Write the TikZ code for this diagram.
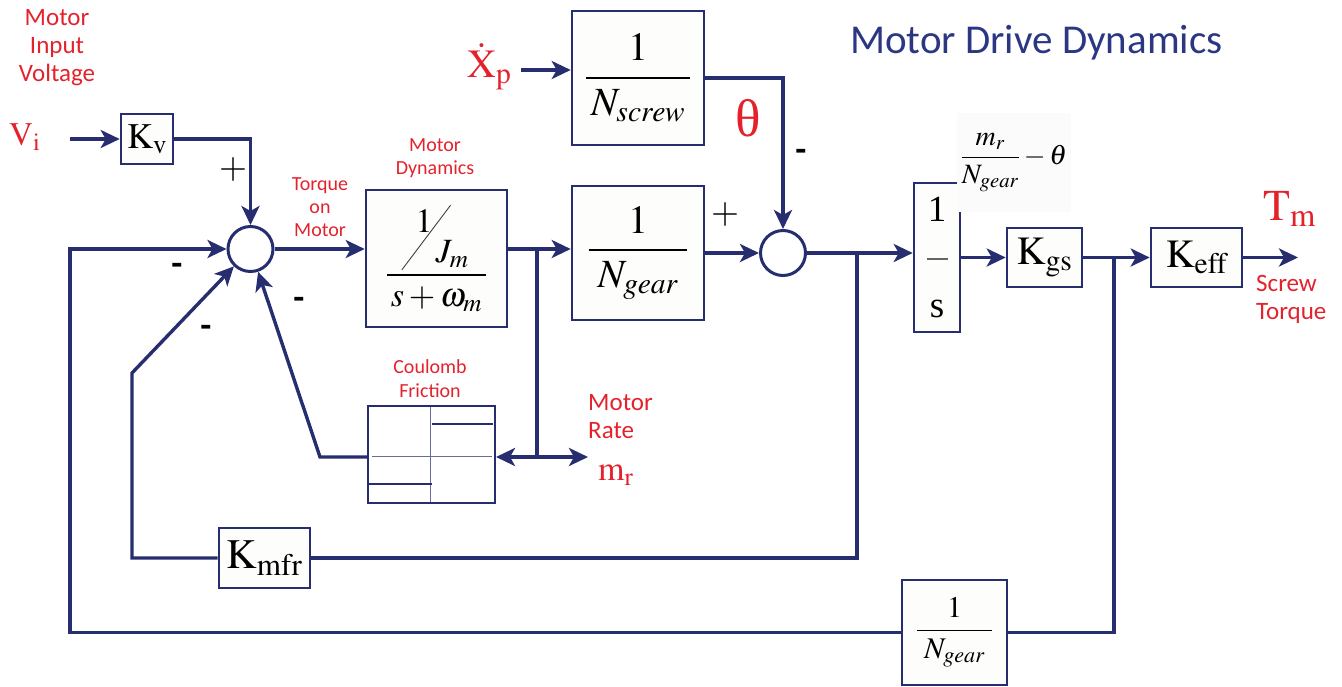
\documentclass[tikz,border=0pt]{standalone}
\usepackage{amsmath}
\usepackage{mathptmx}
\usepackage{fontspec}
\setmainfont{Liberation Serif}
\newfontfamily\carlito{Carlito}
\usetikzlibrary{arrows.meta}
\definecolor{navy}{RGB}{38,46,112}
\definecolor{titleblue}{RGB}{44,55,132}
\definecolor{lblred}{RGB}{228,34,44}
\definecolor{boxfill}{RGB}{253,253,251}

\tikzset{
  blk/.style={draw=navy, line width=2.6pt, fill=boxfill, inner sep=0pt},
  sumnode/.style={circle, draw=navy, line width=3pt, fill=white, minimum size=45pt, inner sep=0pt},
  wire/.style={draw=navy, line width=3.4pt},
  tip/.style={-{Stealth[length=19pt,width=18pt,inset=5pt]}},
  arr/.style={wire, tip},
  lbl/.style={inner sep=0pt},
  redsmall/.style={lbl, text=lblred, font=\carlito\fontsize{20}{23}\selectfont, align=center},
  redmid/.style={lbl, text=lblred, font=\carlito\fontsize{25}{28}\selectfont, align=center},
  minussign/.style={lbl, font=\carlito\bfseries\fontsize{36}{36}\selectfont},
  plussign/.style={lbl, font=\fontsize{36}{36}\selectfont},
}

\begin{document}
\begin{tikzpicture}[x=1pt, y=-1pt]
\useasboundingbox (0,0) rectangle (1342,686);

% blocks
\node[blk, minimum width=52pt, minimum height=50pt, font=\fontsize{36}{36}\selectfont] (kv) at (147,139) {$\mathrm{K}_{\mathrm{v}}$};
\node[sumnode] (sum1) at (250.5,249) {};
\node[blk, minimum width=141pt, minimum height=137pt, font=\fontsize{34}{40}\selectfont] (motordyn) at (436.5,258.5)
  {$\dfrac{\raisebox{-20pt}{\makebox[70pt][l]{\rlap{\rotatebox{53}{\color{black!75}\rule{81pt}{0.9pt}}}\rlap{\kern14pt\raisebox{38pt}{$1$}}\kern34pt\raisebox{8pt}{$J_m$}}}}{\,s+\omega_m\,}$};
\node[blk, minimum width=132pt, minimum height=134pt, font=\fontsize{40}{48}\selectfont] (ngear) at (638,253) {$\dfrac{1}{\;N_{gear}\;}$};
\node[blk, minimum width=132pt, minimum height=134pt, font=\fontsize{40}{48}\selectfont] (nscrew) at (638,78) {$\dfrac{1}{\,N_{screw}\,}$};
\node[sumnode] (sum2) at (783,253) {};
\node[blk, minimum width=46pt, minimum height=149pt, align=center, font=\fontsize{37}{48}\selectfont] (integ) at (937,257.5)
  {1\\\textcolor{black!60}{\rule[10pt]{21pt}{1.5pt}}\\s};
\node[blk, minimum width=75pt, minimum height=59pt, font=\fontsize{40}{40}\selectfont] (kgs) at (1044.5,257.5) {$\mathrm{K}_{\mathrm{gs}}$};
\node[blk, minimum width=91pt, minimum height=59pt, font=\fontsize{40}{40}\selectfont] (keff) at (1196.5,257.5) {$\mathrm{K}_{\mathrm{eff}}$};
\node[blk, minimum width=91pt, minimum height=60pt, font=\fontsize{42}{42}\selectfont] (kmfr) at (264.5,558) {$\mathrm{K}_{\mathrm{mfr}}$};
\node[blk, minimum width=105pt, minimum height=105pt, font=\fontsize{30}{36}\selectfont] (ngearfb) at (954.5,632.5) {$\dfrac{1}{\;N_{gear}\;}$};

% coulomb friction
\node[draw=navy, line width=2pt, fill=white, minimum width=127pt, minimum height=97pt] (friction) at (431.5,454.5) {};
\draw[navy!70, line width=0.9pt] (430,407) -- (430,502) (372,456) -- (492,456);
\draw[navy, line width=2.4pt] (432,424) -- (493,424) (369,484) -- (432,484);

% labels
\node[lbl, text=titleblue, font=\carlito\fontsize{41}{41}\selectfont, anchor=west] (title) at (850,43) {Motor Drive Dynamics};
\node[redmid] (vinlbl) at (57,48) {Motor\\Input\\Voltage};
\node[lbl, text=lblred, font=\fontsize{33}{33}\selectfont, anchor=base west] (vi) at (9,145) {$\mathrm{V}_{\mathrm{i}}$};
\node[redsmall] (torquelbl) at (320,207) {Torque\\on\\Motor};
\node[redsmall] (dynlbl) at (435,158.5) {Motor\\Dynamics};
\node[redsmall, font=\carlito\fontsize{20}{24}\selectfont] (frictlbl) at (430,379) {Coulomb\\Friction};
\node[redmid, align=left, anchor=west] (ratelbl) at (588,417) {Motor\\Rate};
\node[lbl, text=lblred, font=\fontsize{34}{34}\selectfont, anchor=base west] (mr) at (598,480) {$\mathrm{m}_{\mathrm{r}}$};
\node[lbl, text=lblred, font=\fontsize{40}{40}\selectfont, anchor=base west] (xp) at (467,77) {$\dot{\mathrm{X}}_{\mathrm{p}}$};
\node[lbl, text=lblred, font=\fontsize{53}{53}\selectfont] (theta) at (748,118) {θ};
\node[lbl, text=lblred, font=\fontsize{44}{44}\selectfont, anchor=base west] (tm) at (1263,220) {$\mathrm{T}_{\mathrm{m}}$};
\node[redmid, align=left, anchor=west] (screwlbl) at (1256,299) {Screw\\Torque};
\node[fill=black!1.5, font=\fontsize{28}{32}\selectfont, minimum width=106pt, minimum height=99pt] (errlbl) at (1014,162.5)
  {$\dfrac{m_r}{N_{gear}}-\theta$};

% signs
\node[plussign] (plus1) at (233,170) {$+$};
\node[plussign] (plus2) at (725,215) {$+$};
\node[minussign] (minus1) at (801,155) {-};
\node[minussign] (minus2) at (177,269) {-};
\node[minussign] (minus3) at (206,331) {-};
\node[minussign] (minus4) at (299,303) {-};

% branch points and free ends
\coordinate (vin) at (70,139);
\coordinate (xpin) at (521,70);
\coordinate (jrate) at (537,249);
\coordinate (jlow) at (537,457);
\coordinate (mrout) at (588,457);
\coordinate (jm) at (857,253);
\coordinate (jt) at (1114,257.5);
\coordinate (tmout) at (1298,257.5);
\coordinate (kbend) at (132,373);
\coordinate (fbend) at (320,457);
\coordinate (oleft) at (70,632.5);

% forward path
\draw[arr] (vin) -- (kv);
\draw[arr] (kv.east) -| (sum1.north);
\draw[arr] (sum1) -- (sum1 -| motordyn.west);
\draw[arr] (motordyn.east |- sum1) -- (ngear.west |- sum1);
\draw[arr] (xpin) -- (nscrew.west |- xpin);
\draw[arr] (nscrew.east) -| (sum2.north);
\draw[arr] (ngear.east) -- (sum2);
\draw[arr] (sum2) -- (sum2 -| integ.west);
\draw[arr] (integ.east) -- (kgs.west);
\draw[arr] (kgs) -- (keff);
\draw[arr] (keff.east) -- (tmout);

% motor rate
\draw[wire] (jrate) -- (jlow);
\draw[wire, {Stealth[length=19pt,width=18pt,inset=5pt]}-{Stealth[length=19pt,width=18pt,inset=5pt]}] (friction.east |- jlow) -- (mrout);

% feedback loops
\draw[wire] (jm) |- (kmfr.east);
\draw[arr] (kmfr.west) -| (kbend) -- (sum1);
\draw[arr] (friction.west |- fbend) -- (fbend) -- (sum1);
\draw[wire] (jt) |- (ngearfb.east);
\draw[arr] (ngearfb.west) -- (oleft) |- (sum1.west);
\end{tikzpicture}
\end{document}
